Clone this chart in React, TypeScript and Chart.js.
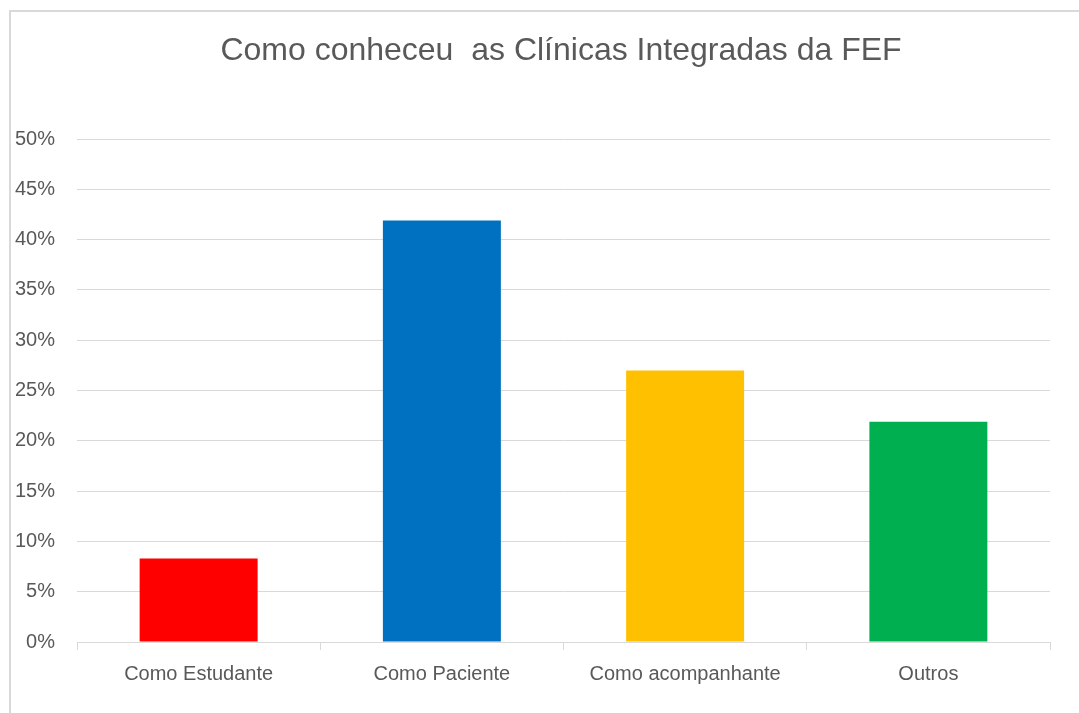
import React, { useEffect, useRef } from "react";
import { Chart, registerables } from "chart.js";

Chart.register(...registerables);

const categories = ["Como Estudante", "Como Paciente", "Como acompanhante", "Outros"];
const values = [8.3, 41.9, 27.0, 21.9];
const barColors = ["#FF0000", "#0070C0", "#FFC000", "#00B050"];
const titleText = "Como conheceu  as Clínicas Integradas da FEF";
const yMax = 50;
const yStep = 5;

export default function App() {
  const ref = useRef<HTMLCanvasElement | null>(null);

  useEffect(() => {
    if (!ref.current) return;
    const font = "'Liberation Sans', Arial, sans-serif";
    const titlePlugin = {
      id: "offsetTitle",
      afterDraw(c: any) {
        const ctx = c.ctx;
        ctx.save();
        ctx.fillStyle = "#595959";
        ctx.font = "32px " + font;
        ctx.textAlign = "center";
        ctx.textBaseline = "middle";
        ctx.fillText(titleText, 561, 51);
        ctx.restore();
      },
    };
    const chart = new Chart(ref.current, {
      type: "bar",
      data: {
        labels: categories,
        datasets: [
          {
            data: values,
            backgroundColor: barColors,
            borderWidth: 0,
            barPercentage: 0.485,
            categoryPercentage: 1,
          },
        ],
      },
      options: {
        responsive: false,
        animation: false,
        maintainAspectRatio: false,
        layout: { padding: { left: 0, right: 29, top: 139, bottom: 15 } },
        plugins: {
          legend: { display: false },
          tooltip: { enabled: false },
          title: { display: false },
        },
        scales: {
          x: {
            grid: {
              display: true,
              drawOnChartArea: false,
              drawTicks: true,
              tickLength: 8,
              color: "#d9d9d9",
              offset: true,
            },
            border: { display: true, color: "#d9d9d9", width: 1 },
            ticks: {
              color: "#595959",
              font: { family: font, size: 20 },
              padding: 12,
              maxRotation: 0,
            },
          },
          y: {
            min: 0,
            max: yMax,
            afterFit: (s: any) => {
              s.width = 77;
            },
            grid: {
              color: "#d9d9d9",
              drawTicks: false,
              lineWidth: 1,
            },
            border: { display: false },
            ticks: {
              stepSize: yStep,
              color: "#595959",
              font: { family: font, size: 20 },
              padding: 22,
              callback: (v: any) => v + "%",
            },
          },
        },
      },
      plugins: [titlePlugin],
    });
    return () => chart.destroy();
  }, []);

  return (
    <div>
      <div
        style={{
          position: "fixed",
          left: 9,
          top: 10,
          width: 1200,
          height: 800,
          borderLeft: "2px solid #d9d9d9",
          borderTop: "2px solid #d9d9d9",
          boxSizing: "border-box",
        }}
      />
      <canvas
        ref={ref}
        width={1079}
        height={713}
        style={{ position: "fixed", left: 0, top: 0, width: 1079, height: 713 }}
      />
    </div>
  );
}
